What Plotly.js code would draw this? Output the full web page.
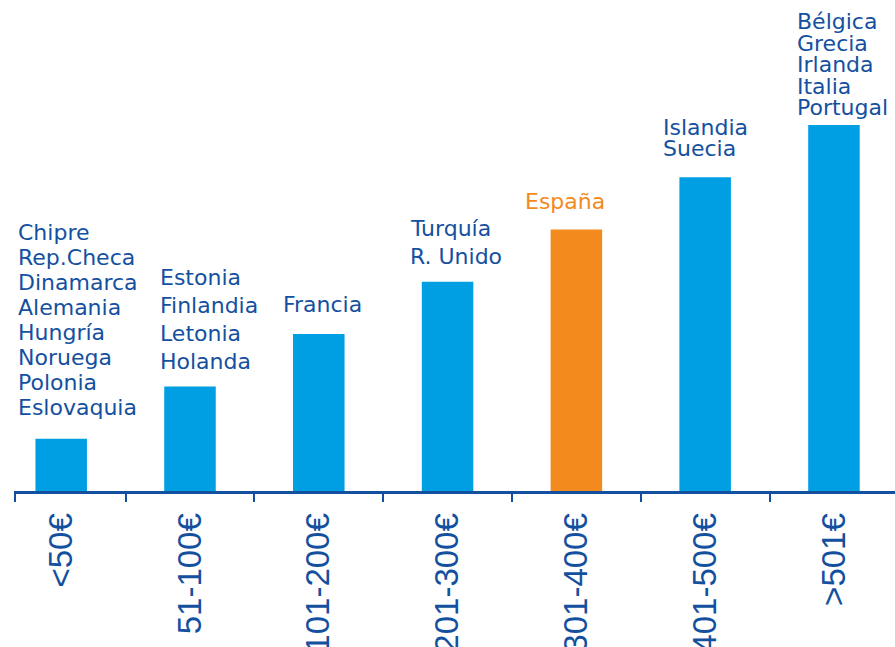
<!DOCTYPE html>
<html>
<head>
<meta charset="utf-8">
<script src="https://cdn.plot.ly/plotly-3.0.1.min.js"></script>
<style>html,body{margin:0;padding:0;background:#fff;}#chart{width:895px;height:647px;}</style>
</head>
<body>
<div id="chart"></div>
<script>
// ---- data ----
const categories = ['<50€', '51-100€', '101-200€', '201-300€', '301-400€', '401-500€', '>501€'];
const values = [1, 2, 3, 4, 5, 6, 7];
const countries = [
  ['Chipre', 'Rep.Checa', 'Dinamarca', 'Alemania', 'Hungría', 'Noruega', 'Polonia', 'Eslovaquia'],
  ['Estonia', 'Finlandia', 'Letonia', 'Holanda'],
  ['Francia'],
  ['Turquía', 'R. Unido'],
  ['España'],
  ['Islandia', 'Suecia'],
  ['Bélgica', 'Grecia', 'Irlanda', 'Italia', 'Portugal']
];
const highlightCategory = '301-400€';

// ---- styles / layout constants ----
const blue = '#009fe3';
const orange = '#f28a1e';
const navy = '#1450a0';
const labelXShift = [-41.7, -28.3, -34, -35.8, -49.8, -40, -34.7];
const lastLineOffset = [31.2, 24.8, 29.7, 25.6, 28, 28.6, 17];
const lineSpacing = [24.96, 28, 28, 27.6, 28, 21.4, 21.5];

const barColors = categories.map(c => c === highlightCategory ? orange : blue);

const annotations = [];
countries.forEach((list, i) => {
  const n = list.length;
  const col = categories[i] === highlightCategory ? orange : navy;
  list.forEach((name, k) => {
    annotations.push({
      xref: 'x', yref: 'y',
      x: categories[i], y: values[i],
      xanchor: 'left', yanchor: 'middle',
      xshift: labelXShift[i] - 4,
      yshift: lastLineOffset[i] + (n - 1 - k) * lineSpacing[i],
      text: name,
      showarrow: false,
      font: {family: 'DejaVu Sans', size: 22, color: col}
    });
  });
});

const trace = {
  type: 'bar',
  x: categories,
  y: values,
  width: 0.4,
  marker: {color: barColors, line: {width: 0}},
  hoverinfo: 'none'
};

const layout = {
  width: 895, height: 647,
  margin: {l: 15, r: 0, t: 0, b: 156, pad: 0},
  paper_bgcolor: '#ffffff', plot_bgcolor: '#ffffff',
  showlegend: false,
  xaxis: {
    type: 'category',
    range: [-0.3587, 6.474],
    showline: true, linecolor: navy, linewidth: 3,
    ticks: 'outside', tickson: 'boundaries', ticklen: 8, tickwidth: 2, tickcolor: navy,
    tickangle: -90,
    ticklabelstandoff: 6,
    tickfont: {family: 'Liberation Sans', size: 33, color: navy},
    showgrid: false, zeroline: false, fixedrange: true
  },
  yaxis: {
    range: [0, 9.388],
    visible: false, showgrid: false, zeroline: false, fixedrange: true
  },
  shapes: [{
    type: 'line', xref: 'paper', yref: 'paper',
    x0: 0, x1: 0, y0: 0, y1: -11 / 491,
    line: {color: navy, width: 2}
  }],
  annotations: annotations
};

Plotly.newPlot('chart', [trace], layout, {displayModeBar: false, staticPlot: true});
</script>
</body>
</html>
